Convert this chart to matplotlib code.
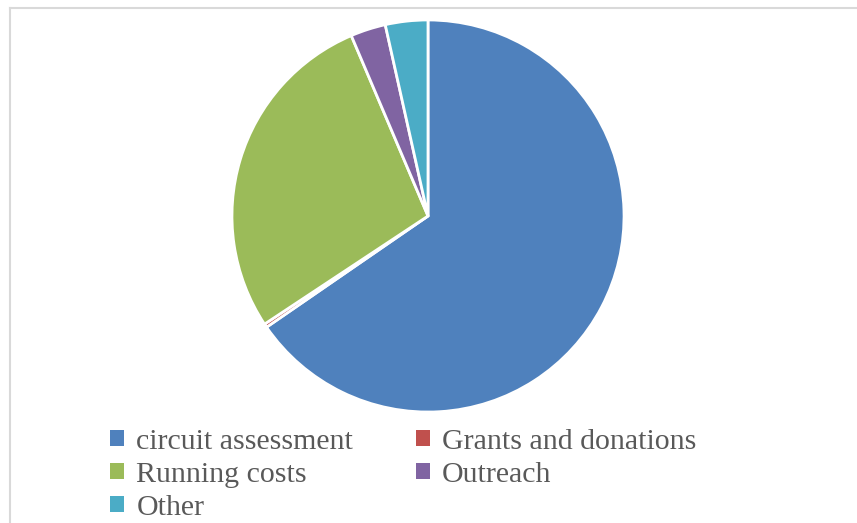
import matplotlib.pyplot as plt
from matplotlib.lines import Line2D
from matplotlib.patches import Patch

# Dados (fatias em %)
categorias = ['circuit assessment', 'Grants and donations', 'Running costs', 'Outreach', 'Other']
valores = [65.4, 0.3, 27.9, 2.9, 3.5]
cores = ['#4F81BD', '#C0504D', '#9BBB59', '#8064A2', '#4BACC6']

fig = plt.figure(figsize=(8.57, 5.23), dpi=100)
ax = fig.add_axes([230 / 857, 109 / 523, 396 / 857, 396 / 523])

ax.pie(valores, colors=cores, startangle=90, counterclock=False,
       wedgeprops=dict(edgecolor='white', linewidth=2))
ax.set_xlim(-1.01, 1.01)
ax.set_ylim(-1.01, 1.01)
ax.set_aspect('equal')

# Moldura cortada (linha de cima e da esquerda)
fig.add_artist(Line2D([10 / 857, 1], [1 - 8 / 523, 1 - 8 / 523], color='#d9d9d9', lw=1.5))
fig.add_artist(Line2D([10 / 857, 10 / 857], [0, 1 - 8 / 523], color='#d9d9d9', lw=1.5))

# Legenda: ordem por coluna para ficar igual ao original
ordem = [0, 2, 4, 1, 3]
handles = [Patch(facecolor=cores[i], edgecolor='none') for i in ordem]
labels = [categorias[i] for i in ordem]
leg = fig.legend(handles, labels, ncol=2, loc='upper left',
                 bbox_to_anchor=(110 / 857, 1 - 429 / 523),
                 frameon=False, handlelength=0.46, handleheight=0.46,
                 handletextpad=0.42, columnspacing=2.1, labelspacing=0.23,
                 borderaxespad=0, borderpad=0,
                 prop={'family': 'Liberation Serif', 'size': 21.5})
for t in leg.get_texts():
    t.set_color('#595959')

fig.savefig('out.png', dpi=100)
